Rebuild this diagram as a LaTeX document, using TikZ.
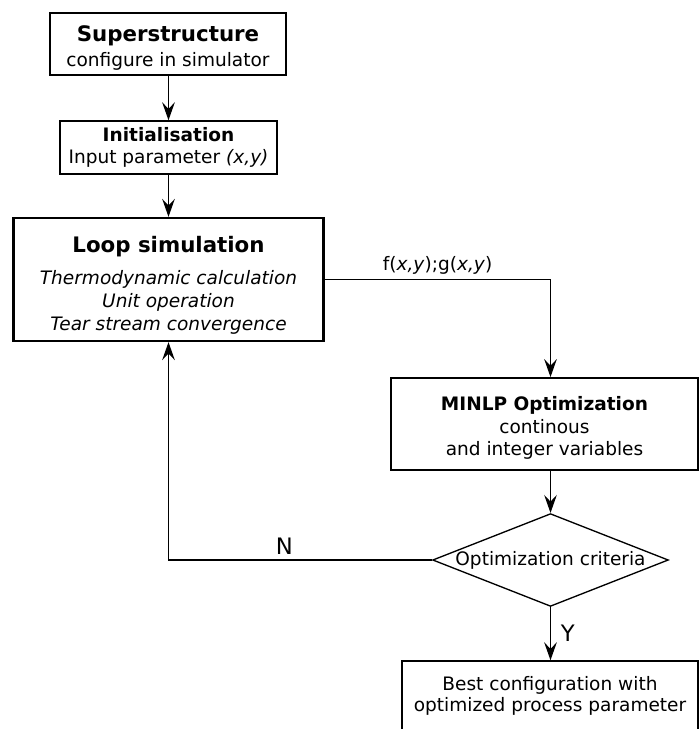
\documentclass[tikz,border=0pt]{standalone}
\usepackage{fontspec}
\setmainfont{DejaVu Sans}
\usetikzlibrary{shapes.geometric, arrows.meta}
\newcommand{\headstrut}[1]{\rule{0pt}{#1}}

\begin{document}
\begin{tikzpicture}[x=0.75pt,y=-0.75pt,
		box/.style={draw, line width=1.1pt, align=center, inner sep=0pt, font=\fontsize{13.9}{17}\selectfont},
		decision/.style={draw, diamond, aspect=2.54, inner sep=0pt, line width=1pt, font=\fontsize{13.9}{17}\selectfont},
		flow/.style={-{Stealth[length=13.5pt,width=9.5pt,inset=5pt]}, line width=0.9pt},
		yn/.style={font=\fontsize{17}{20}\selectfont}]
		\useasboundingbox (0,0) rectangle (699,729);
		\node[box, minimum width=177pt, minimum height=46.5pt] (super) at (168,44) {\headstrut{18pt}{\fontsize{16}{17}\selectfont\bfseries Superstructure}\\[1.75pt]configure in simulator};
		\node[box, minimum width=162.75pt, minimum height=39.75pt] (init) at (168.5,147.5) {\textbf{Initialisation}\\Input parameter \textit{(x,y)}};
		\node[box, line width=1.7pt, minimum width=232.5pt, minimum height=92.25pt] (loop) at (168.5,279.5) {\headstrut{21pt}{\fontsize{16}{17}\selectfont\bfseries Loop simulation}\\[7pt]\textit{Thermodynamic calculation}\\\textit{Unit operation}\\\textit{Tear stream convergence}};
		\node[box, line width=1.4pt, minimum width=230.25pt, minimum height=69pt] (minlp) at (544.5,424) {\headstrut{16.5pt}\textbf{MINLP Optimization}\\continous\\and integer variables};
		\node[decision] (crit) at (550.5,560) {Optimization criteria};
		\node[box, minimum width=222pt, minimum height=52.5pt] (best) at (550,696) {Best configuration with\\[-1.5pt]optimized process parameter};
		\draw[flow] (super.south -| init.north) -- (init.north);
		\draw[flow] (init.south -| loop.north) -- (loop.north);
		\draw[flow] (loop.east) -| node[pos=0.25, above, font=\fontsize{13.9}{17}\selectfont]{f(\textit{x,y});g(\textit{x,y})} (crit.north |- minlp.north);
		\draw[flow] (crit.north |- minlp.south) -- (crit.north);
		\draw[flow] (crit.west) -| node[pos=0.28, above, yn]{N} (loop.south);
		\draw[flow] (crit.south) -- node[midway, right, xshift=4pt, yn]{Y} (crit.south |- best.north);
	\end{tikzpicture}
\end{document}
